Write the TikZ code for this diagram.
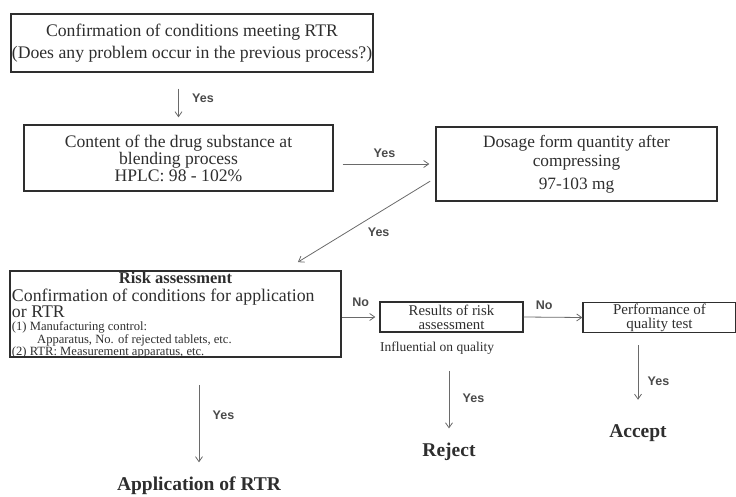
\documentclass[tikz,border=0pt]{standalone}
\usepackage{fontspec}
\setmainfont{Liberation Serif}
\setsansfont{Liberation Sans}
\usetikzlibrary{positioning}
\usetikzlibrary{arrows.meta}
\definecolor{inkgray}{HTML}{2E2E2E}
\definecolor{wiregray}{HTML}{6A6A6A}
\tikzset{flow box/.style={draw=inkgray, line width=1.3pt, text=inkgray, align=center, inner sep=1pt},
  answer/.style={font=\sffamily\bfseries\fontsize{12.5}{14}\selectfont, text=wiregray!70!black},
  outcome/.style={font=\bfseries\fontsize{19.5}{22}\selectfont, text=inkgray},}

\begin{document}
\begin{tikzpicture}[x=1pt, y=-1pt, ->, >={Straight Barb[length=5pt,width=7pt]}, draw=wiregray, line width=0.8pt]
    \useasboundingbox (0,0) rectangle (736,497);
    % boxes
    \node[flow box, minimum width=360pt, minimum height=58pt, font=\fontsize{17.7}{22}\selectfont] (confirm) at (192,43) {Confirmation of conditions meeting RTR\\(Does any problem occur in the previous process?)};
    \node[flow box, minimum width=309pt, minimum height=66pt, font=\fontsize{17.6}{17}\selectfont] (content) at (178.5,158) {Content of the drug substance at\\blending process\\HPLC: 98 - 102\%};
    \node[flow box, minimum width=281pt, minimum height=74pt, font=\fontsize{17.3}{19}\selectfont] (dosage) at (576.5,164) {Dosage form quantity after\\compressing\\[4pt]97-103 mg};
    \node[flow box, line width=1.8pt, minimum width=331pt, minimum height=86pt, inner sep=0pt] (risk) at (175.5,314) {\begin{minipage}[c][84pt][t]{327pt}\raggedright
        {\centering\fontsize{16.5}{16}\selectfont\bfseries Risk assessment\par}
        {\fontsize{17.8}{16.5}\selectfont\vspace*{1.5pt}Confirmation of conditions for application\\or RTR\par}
        \vspace{2pt}
        {\fontsize{12.6}{10.8}\selectfont (1) Manufacturing control:\\\hspace*{2em}Apparatus, No. of rejected tablets, etc.\\(2) RTR: Measurement apparatus, etc.\par}
      \end{minipage}};
    \node[flow box, minimum width=143pt, minimum height=30pt, font=\fontsize{14.8}{14}\selectfont] (results) at (451.5,317) {Results of risk\\assessment};
    \node[flow box, minimum width=153pt, minimum height=30pt, font=\fontsize{15}{14}\selectfont] (perform) at (659.5,317.5) {Performance of\\quality test};
    \node[text=inkgray, font=\fontsize{13.5}{15}\selectfont] (influence) at (437,348) {Influential on quality};
    % outcomes
    \node[outcome] (apply) at (199,486) {Application of RTR};
    \node[outcome] (reject) at (449,452) {Reject};
    \node[outcome] (accept) at (638,433) {Accept};

    \draw[shorten <=16pt, shorten >=7pt] (confirm.south -| content.north) -- (content.north) node[midway, right=10pt, answer] {Yes};
    \draw[shorten <=9pt, shorten >=6pt] (content.east |- dosage.west) -- (dosage.west) node[midway, above=3pt, answer] {Yes};
    \draw[shorten <=6pt] ([yshift=-14pt]dosage.west) -- ([xshift=-44pt, yshift=8pt]risk.north east) node[midway, xshift=12pt, yshift=-12pt, answer] {Yes};
    \draw[shorten >=4pt] (risk.east |- results.west) -- (results.west) node[midway, above=7pt, answer] {No};
    \draw (results.east) -- (perform.west) node[pos=0.35, above=4pt, answer] {No};
    \draw[shorten <=13pt, shorten >=11pt] (influence.south -| reject.north) -- (reject.north) node[midway, right=10pt, answer] {Yes};
    \draw[shorten <=12pt, shorten >=21pt] (perform.south -| accept.north) -- (accept.north) node[pos=0.55, right=6pt, answer] {Yes};
    \draw[shorten <=27pt, shorten >=11pt] (risk.south -| apply.north) -- (apply.north) node[midway, right=10pt, answer] {Yes};
\end{tikzpicture}
\end{document}
